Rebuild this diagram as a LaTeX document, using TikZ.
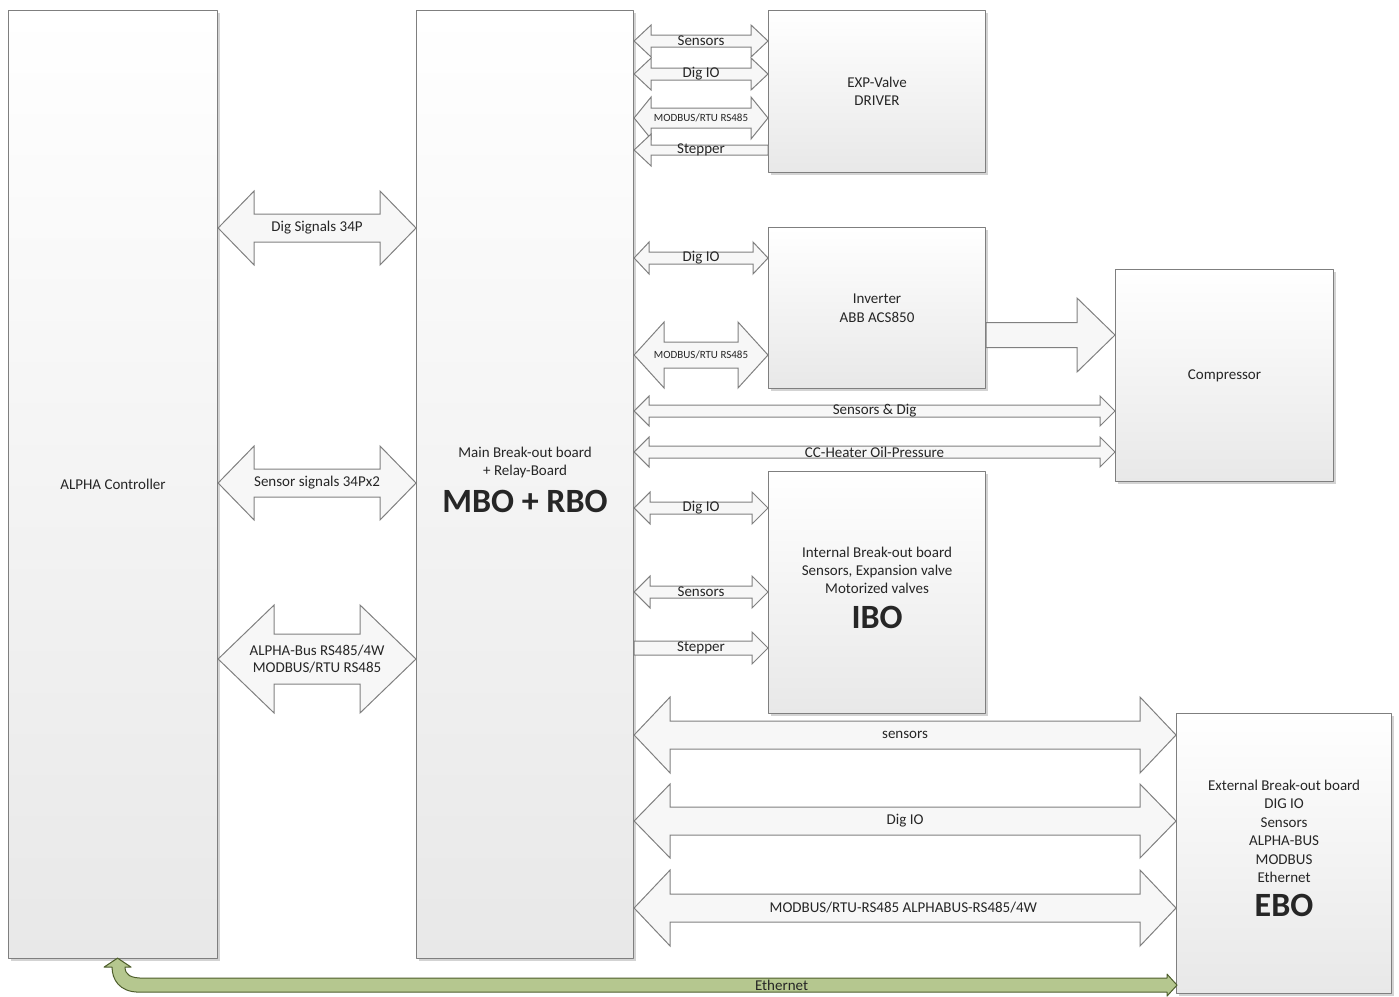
\documentclass[tikz,border=0pt]{standalone}
\usepackage{fontspec}
\setmainfont{Carlito}
\usetikzlibrary{calc,shadows}

\definecolor{boxline}{HTML}{7F7F7F}
\definecolor{arrowline}{HTML}{808080}
\definecolor{ethfill}{HTML}{B5C78F}
\definecolor{ethline}{HTML}{4E5E2C}
\definecolor{labeltext}{HTML}{262626}

\tikzset{
  board/.style={draw=boxline, line width=1.1pt, top color=white, bottom color=black!9,
    drop shadow={shadow xshift=2pt, shadow yshift=-2pt, opacity=0.35},
    anchor=north west, inner sep=0pt, align=center, text=labeltext,
    font=\fontsize{15}{18.4}\selectfont},
  blockarrow/.style={draw=arrowline, line width=1pt, fill=black!3, line join=miter},
  arrowtext/.style={inner sep=0pt, align=center, text=labeltext, font=\fontsize{15}{17}\selectfont},
  ethernet/.style={draw=ethline, line width=1pt, fill=ethfill},
}
\newcommand{\smalltag}{\fontsize{11}{13}\selectfont}
\newcommand{\boardtag}[1]{\\[11pt]{\fontsize{34}{34}\selectfont\bfseries #1\rule[-10pt]{0pt}{10pt}}}

% double block arrow: left node, right node, y, shaft half, head half, head length, label
\newcommand{\bothways}[7]{%
  \draw[blockarrow] let \p1=(#1.east), \p2=(#2.west) in
    (\x1,{-#3pt}) -- (\x1+#6pt,{-#3pt+#5pt}) -- (\x1+#6pt,{-#3pt+#4pt})
    -- (\x2-#6pt,{-#3pt+#4pt}) -- (\x2-#6pt,{-#3pt+#5pt}) -- (\x2,{-#3pt})
    -- (\x2-#6pt,{-#3pt-#5pt}) -- (\x2-#6pt,{-#3pt-#4pt})
    -- (\x1+#6pt,{-#3pt-#4pt}) -- (\x1+#6pt,{-#3pt-#5pt}) -- cycle
    ({(\x1+\x2)/2},{-#3pt}) node[arrowtext] {#7};}

% single block arrow: tail point, tip point, y, shaft half, head half, signed head length, label
\newcommand{\oneway}[7]{%
  \draw[blockarrow] let \p1=(#1), \p2=(#2) in
    (\x1,{-#3pt+#4pt}) -- ({\x2-1*#6pt},{-#3pt+#4pt}) -- ({\x2-1*#6pt},{-#3pt+#5pt})
    -- (\x2,{-#3pt}) -- ({\x2-1*#6pt},{-#3pt-#5pt}) -- ({\x2-1*#6pt},{-#3pt-#4pt})
    -- (\x1,{-#3pt-#4pt}) -- cycle
    ({(\x1+\x2)/2},{-#3pt}) node[arrowtext] {#7};}

\begin{document}
\begin{tikzpicture}[x=1pt, y=-1pt, line join=round]
  \useasboundingbox (0,0) rectangle (1399,996);

  % Boards
  \node[board, minimum width=209pt, minimum height=948pt] (alpha) at (8,10) {ALPHA Controller};
  \node[board, minimum width=217pt, minimum height=948pt] (mbo) at (416,10)
    {Main Break-out board\\+ Relay-Board\boardtag{MBO + RBO}};
  \node[board, minimum width=217pt, minimum height=162pt] (exp) at (768,10) {EXP-Valve\\DRIVER};
  \node[board, minimum width=217pt, minimum height=161pt] (inv) at (768,227) {Inverter\\ABB ACS850};
  \node[board, minimum width=218pt, minimum height=212pt] (comp) at (1115,269) {Compressor};
  \node[board, minimum width=217pt, minimum height=242pt] (ibo) at (768,471)
    {Internal Break-out board\\Sensors, Expansion valve\\Motorized valves\boardtag{IBO}};
  \node[board, minimum width=215pt, minimum height=280pt] (ebo) at (1176,713)
    {External Break-out board\\DIG IO\\Sensors\\ALPHA-BUS\\MODBUS\\Ethernet\boardtag{EBO}};

  % Two-way links
  \foreach \from/\to/\ypos/\sh/\hh/\hl/\txt in {
    alpha/mbo/228/14/37/36/{Dig Signals 34P},
    alpha/mbo/483/14/37/36/{Sensor signals 34Px2},
    alpha/mbo/659/25/54/56/{ALPHA-Bus RS485/4W\\MODBUS/RTU RS485},
    mbo/exp/41/6/16/17/{Sensors},
    mbo/exp/74/6/16/17/{Dig IO},
    mbo/exp/118/10/21/17/{\smalltag MODBUS/RTU RS485},
    mbo/inv/258/6/16/15/{Dig IO},
    mbo/inv/355/13/33/30/{\smalltag MODBUS/RTU RS485},
    mbo/comp/411/6/15/15/{Sensors \& Dig},
    mbo/comp/452/6/15/15/{CC-Heater Oil-Pressure},
    mbo/ibo/508/6/16/16/{Dig IO},
    mbo/ibo/592/6/16/16/{Sensors},
    mbo/ebo/735/14/38/36/{sensors},
    mbo/ebo/821/14/37/36/{Dig IO},
    mbo/ebo/908/14/38/36/{MODBUS/RTU-RS485 ALPHABUS-RS485/4W}
  }{
    \bothways{\from}{\to}{\ypos}{\sh}{\hh}{\hl}{\txt}
  }

  % One-way links
  \oneway{exp.west}{mbo.east}{150}{5}{16}{-17}{Stepper}
  \oneway{mbo.east}{ibo.west}{648}{7}{16}{16}{Stepper}
  \oneway{inv.east}{comp.west}{335}{12.5}{37}{38}{}

  % Ethernet
  \draw[ethernet] let \p1=(alpha.south), \p2=(ebo.west) in
    (\x1+4.5pt,\y1+1pt) -- (\x1+18pt,\y1-8pt) -- (\x1+12pt,\y1-8pt)
    .. controls (\x1+12pt,\y1-16pt) and (\x1+18pt,\y1-19pt) .. (\x1+30pt,\y1-19pt)
    -- (\x2-9pt,\y1-19pt) -- (\x2-9pt,\y1-15pt) -- (\x2+1pt,\y1-26pt)
    -- (\x2-9pt,\y1-37pt) -- (\x2-9pt,\y1-33pt) -- (\x1+26pt,\y1-33pt)
    .. controls (\x1+6pt,\y1-33pt) and (\x1-1pt,\y1-20pt) .. (\x1-1pt,\y1-8pt)
    -- (\x1-9pt,\y1-8pt) -- cycle
    (\x1+668.5pt,\y1-26pt) node[arrowtext] {Ethernet};
\end{tikzpicture}
\end{document}
